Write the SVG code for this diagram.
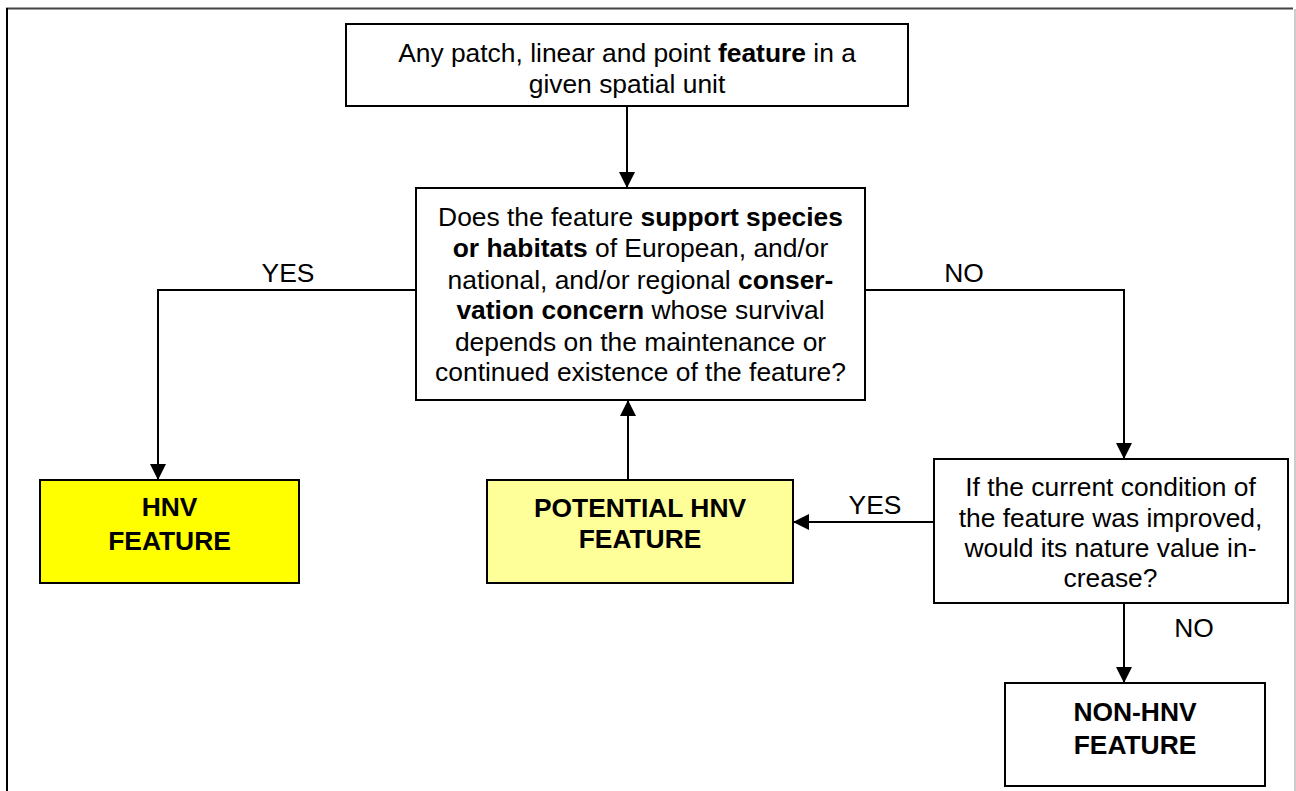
<svg xmlns="http://www.w3.org/2000/svg" width="1296" height="791" viewBox="0 0 1296 791">
<defs>
<style>
.box{stroke:#000;stroke-width:2;fill:#fff}
.t{font-family:"Liberation Sans",Arial,sans-serif;font-size:26.4px;fill:#000;text-anchor:middle}
.b{font-weight:bold}
.c{stroke:#000;stroke-width:2;fill:none}
</style>
<marker id="ah" markerUnits="userSpaceOnUse" markerWidth="16" markerHeight="16" viewBox="0 0 16 16" refX="16" refY="8" orient="auto">
<path d="M0,0 L16,8 L0,16 Z" fill="#000"/>
</marker>
</defs>
<rect width="1296" height="791" fill="#fff"/>
<g id="frame">
<line x1="6" y1="8.5" x2="1293" y2="8.5" stroke="#444" stroke-width="2"/>
<line x1="7" y1="8" x2="7" y2="791" stroke="#000" stroke-width="2"/>
<line x1="1295" y1="9" x2="1295" y2="791" stroke="#ccc" stroke-width="2"/>
</g>
<g id="connectors">
<line class="c" x1="627" y1="106" x2="627" y2="188" marker-end="url(#ah)"/>
<polyline class="c" points="416,290 158,290 158,480" marker-end="url(#ah)"/>
<polyline class="c" points="865,290 1124,290 1124,459" marker-end="url(#ah)"/>
<line class="c" x1="628" y1="480" x2="628" y2="400" marker-end="url(#ah)"/>
<line class="c" x1="934" y1="522" x2="793" y2="522" marker-end="url(#ah)"/>
<line class="c" x1="1124" y1="603" x2="1124" y2="683" marker-end="url(#ah)"/>
<text class="t" x="288" y="282">YES</text>
<text class="t" x="964" y="282">NO</text>
<text class="t" x="875" y="514">YES</text>
<text class="t" x="1194" y="637">NO</text>
</g>
<g id="start">
<rect class="box" x="346" y="24" width="562" height="82"/>
<text class="t" x="627" y="62">Any patch, linear and point <tspan class="b">feature</tspan> in a</text>
<text class="t" x="627" y="93">given spatial unit</text>
</g>
<g id="question1">
<rect class="box" x="416" y="188" width="449" height="212"/>
<text class="t" x="640.5" y="226">Does the feature <tspan class="b">support species</tspan></text>
<text class="t" x="640.5" y="257"><tspan class="b">or habitats</tspan> of European, and/or</text>
<text class="t" x="640.5" y="289">national, and/or regional <tspan class="b">conser-</tspan></text>
<text class="t" x="640.5" y="319"><tspan class="b">vation concern</tspan> whose survival</text>
<text class="t" x="640.5" y="351">depends on the maintenance or</text>
<text class="t" x="640.5" y="381">continued existence of the feature?</text>
</g>
<g id="hnv">
<rect class="box" x="40" y="480" width="259" height="103" style="fill:#ffff00"/>
<text class="t b" x="169.5" y="516">HNV</text>
<text class="t b" x="169.5" y="550">FEATURE</text>
</g>
<g id="potential">
<rect class="box" x="487" y="480" width="306" height="103" style="fill:#ffff99"/>
<text class="t b" x="640" y="517">POTENTIAL HNV</text>
<text class="t b" x="640" y="548">FEATURE</text>
</g>
<g id="question2">
<rect class="box" x="934" y="459" width="354" height="144"/>
<text class="t" x="1110.5" y="496">If the current condition of</text>
<text class="t" x="1110.5" y="527">the feature was improved,</text>
<text class="t" x="1110.5" y="557">would its nature value in-</text>
<text class="t" x="1110.5" y="587">crease?</text>
</g>
<g id="nonhnv">
<rect class="box" x="1005" y="683" width="260" height="103"/>
<text class="t b" x="1135" y="721">NON-HNV</text>
<text class="t b" x="1135" y="754">FEATURE</text>
</g>
</svg>
